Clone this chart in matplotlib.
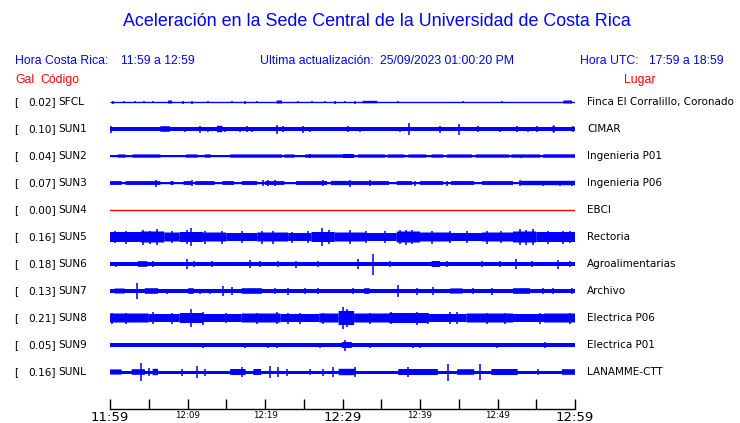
import matplotlib
matplotlib.use("Agg")
import matplotlib.pyplot as plt
import matplotlib.transforms as mtransforms

# station table (top to bottom)
codes = ["SFCL", "SUN1", "SUN2", "SUN3", "SUN4", "SUN5", "SUN6", "SUN7", "SUN8", "SUN9", "SUNL"]
gal = [0.02, 0.10, 0.04, 0.07, 0.00, 0.16, 0.18, 0.13, 0.21, 0.05, 0.16]
places = ["Finca El Corralillo, Coronado", "CIMAR", "Ingenieria P01", "Ingenieria P06",
          "EBCI", "Rectoria", "Agroalimentarias", "Archivo", "Electrica P06",
          "Electrica P01", "LANAMME-CTT"]

# time axis: minutes after 11:59
tick_minutes = list(range(0, 61, 5))
tick_labels = {0: "11:59", 10: "12:09", 20: "12:19", 30: "12:29",
               40: "12:39", 50: "12:49", 60: "12:59"}
big_labels = ["11:59", "12:29", "12:59"]

# trace envelopes, half-amplitude in screen pixels
# core: quiet band level; segments: (start_min, end_min, half_amp); spikes: (min, half_amp)
core = [0.5, 1.8, 0.6, 1.0, 0.5, 0.0, 1.7, 1.7, 0.0, 1.7, 1.5]

segments = {
    "SFCL": [(7.5, 8.0, 1.5), (21.5, 22.2, 1.5), (32.6, 34.5, 1.2), (58.5, 59.6, 1.5)],
    "SUN1": [(6.5, 7.7, 2.8), (13.8, 14.5, 3.2), (57.1, 57.4, 3.5)],
    "SUN2": [(1.0, 2.0, 1.6), (2.9, 6.5, 1.6), (9.8, 11.3, 1.6), (12.2, 13.0, 1.6),
             (15.5, 22.2, 1.6), (22.5, 23.8, 1.6), (25.2, 30.0, 1.6), (30.0, 31.5, 2.0),
             (32.0, 35.5, 1.6), (35.8, 38.0, 1.6), (38.5, 40.8, 1.6), (41.5, 43.0, 1.6),
             (43.5, 46.7, 1.6), (47.2, 51.5, 1.6), (51.8, 55.5, 1.6), (55.9, 60.0, 1.7)],
    "SUN3": [(0.0, 1.5, 1.9), (2.0, 6.5, 1.9), (7.8, 8.2, 1.9), (9.5, 10.5, 1.9),
             (11.0, 13.5, 1.9), (14.5, 16.0, 1.9), (17.0, 19.0, 1.9), (20.0, 22.5, 1.9),
             (24.0, 28.0, 1.9), (28.5, 31.0, 2.1), (31.0, 36.0, 1.9), (37.0, 39.0, 1.9),
             (40.0, 43.0, 1.9), (44.0, 47.0, 1.9), (48.0, 52.0, 1.9), (53.0, 60.0, 2.2)],
    "SUN4": [],
    "SUN5": [(0, 4, 5.0), (4, 7, 5.5), (7, 9, 4.5), (9, 12, 5.0), (12, 15, 4.5),
             (15, 19, 4.0), (19, 23, 4.5), (23, 26, 4.0), (26, 29, 5.0), (29, 33, 4.5),
             (33, 37, 4.0), (37, 40, 5.5), (40, 44, 4.5), (44, 48, 4.0), (48, 52, 4.5),
             (52, 55, 5.5), (55, 60, 5.0)],
    "SUN6": [(3.6, 4.8, 2.8), (41.5, 42.6, 3.0)],
    "SUN7": [(0.6, 1.9, 2.5), (4.5, 6.2, 2.8), (10.1, 10.8, 2.8), (17.0, 19.6, 2.8),
             (32.8, 33.5, 2.8), (43.9, 45.5, 2.6), (52.0, 54.2, 2.8)],
    "SUN8": [(0, 5, 4.5), (5, 9, 4.0), (9, 12, 5.0), (12, 17, 4.0), (17, 22, 4.5),
             (22, 27, 4.0), (27, 29.5, 4.5), (29.5, 31.5, 7.0), (31.5, 36, 4.5),
             (36, 41, 5.0), (41, 46, 4.0), (46, 52, 4.5), (52, 56, 4.0), (56, 60, 4.5)],
    "SUN9": [(29.9, 31.2, 3.0)],
    "SUNL": [(0.0, 1.5, 2.6), (2.8, 4.5, 2.8), (5.5, 6.2, 3.2), (15.5, 17.5, 3.0),
             (18.5, 19.5, 3.0), (29.5, 31.7, 3.2), (37.2, 42.3, 3.0), (44.8, 47.0, 2.8),
             (49.2, 52.6, 3.0), (58.3, 60.0, 2.8)],
}

spikes = {
    "SFCL": [(0.4, 1.5), (1.8, 1.3), (3.2, 1.3), (4.4, 1.2), (5.5, 1.2), (9.4, 1.5),
             (10.6, 1.5), (12.6, 1.2), (15.7, 1.2), (17.4, 1.5), (19.0, 1.3), (24.3, 1.2),
             (26.1, 1.2), (27.7, 1.3), (29.0, 1.5), (30.3, 1.3), (31.6, 1.5), (37.2, 1.3),
             (45.5, 1.2), (50.6, 1.2)],
    "SUN1": [(0.1, 3.5), (9.7, 2.5), (11.6, 3.5), (12.6, 2.5), (14.8, 2.5), (16.8, 2.5),
             (17.7, 3.0), (18.3, 2.5), (21.6, 4.5), (22.3, 3.0), (24.9, 3.5), (25.8, 2.5),
             (30.7, 3.0), (32.2, 2.5), (37.4, 2.5), (38.6, 6.0), (42.6, 3.5), (45.0, 5.5),
             (47.5, 3.0), (50.3, 2.5), (52.5, 3.0), (53.9, 2.5), (55.1, 3.0), (59.7, 3.0)],
    "SUN2": [(0.4, 1.3), (8.5, 1.3), (14.0, 1.3), (25.8, 2.0), (53.0, 1.5)],
    "SUN3": [(5.9, 3.5), (10.6, 3.0), (19.7, 3.0), (20.4, 3.0), (21.3, 3.0), (27.5, 3.0),
             (31.0, 3.5), (33.5, 3.0), (39.4, 2.5), (43.5, 2.5), (52.9, 3.0), (55.9, 2.5),
             (58.1, 2.5), (59.6, 2.5)],
    "SUN4": [],
    "SUN5": [(0.6, 6.0), (2.0, 6.5), (4.3, 7.5), (5.2, 6.5), (6.1, 8.0), (8.0, 6.0),
             (9.9, 7.0), (10.5, 9.0), (12.3, 6.5), (14.5, 6.5), (17.0, 6.0), (19.6, 6.5),
             (21.0, 6.5), (23.5, 5.5), (25.5, 6.0), (27.4, 9.0), (28.2, 7.0), (31.0, 7.0),
             (33.0, 6.0), (35.5, 6.0), (37.4, 7.0), (38.2, 7.5), (39.0, 7.0), (41.5, 6.5),
             (43.9, 6.0), (46.0, 6.0), (48.6, 6.5), (50.5, 6.0), (52.9, 8.0), (53.7, 7.5),
             (54.6, 8.0), (56.5, 6.5), (58.5, 6.5), (59.4, 6.0)],
    "SUN6": [(0.8, 2.5), (5.5, 3.0), (9.9, 5.0), (10.9, 3.0), (13.2, 3.0), (18.1, 4.0),
             (19.4, 3.0), (21.7, 3.0), (24.0, 3.5), (26.8, 3.0), (32.0, 5.0), (33.9, 10.5),
             (36.1, 3.0), (43.5, 3.0), (48.0, 3.0), (50.3, 3.0), (52.4, 5.0), (54.5, 3.0),
             (57.8, 4.5), (59.4, 3.0)],
    "SUN7": [(3.5, 8.0), (7.4, 2.5), (11.6, 2.5), (12.9, 2.5), (14.6, 5.0), (15.8, 4.0),
             (21.3, 3.0), (23.0, 3.5), (25.2, 3.0), (26.8, 3.0), (31.4, 3.0), (37.2, 6.0),
             (39.6, 3.5), (41.7, 4.0), (46.8, 3.0), (49.3, 3.5), (55.9, 3.0), (57.2, 3.0),
             (59.6, 3.0)],
    "SUN8": [(0.3, 5.5), (2.0, 5.5), (5.6, 6.0), (8.0, 5.5), (10.5, 9.0), (12.0, 6.5),
             (15.0, 5.0), (19.0, 5.5), (21.5, 6.0), (23.0, 5.5), (24.5, 5.5), (27.5, 5.5),
             (30.1, 11.0), (30.6, 9.0), (33.5, 5.5), (36.2, 6.0), (39.6, 6.5), (41.0, 5.5),
             (43.9, 6.0), (44.8, 6.0), (48.6, 5.5), (51.0, 5.5), (55.5, 5.5), (59.4, 5.5)],
    "SUN9": [(12.0, 2.5), (17.4, 2.5), (20.4, 2.5), (21.5, 2.5), (27.1, 2.5), (30.3, 5.5),
             (33.5, 2.5), (39.1, 2.5), (40.0, 2.5), (49.9, 2.5), (56.1, 3.0)],
    "SUNL": [(4.0, 8.7), (5.0, 4.0), (9.3, 3.5), (11.2, 6.0), (12.3, 3.5), (17.0, 5.0),
             (20.6, 6.0), (21.7, 5.0), (22.8, 3.5), (25.8, 3.0), (27.5, 3.5), (28.8, 5.0),
             (31.6, 5.0), (38.5, 5.0), (43.6, 8.5), (47.7, 8.0), (55.2, 3.0)],
}

W, H = 740, 423
fig = plt.figure(figsize=(W / 100, H / 100), dpi=100)

# trace area in pixels: x 110..575, y 85..409
ax = fig.add_axes([110 / W, 1 - 409 / H, 465 / W, (409 - 85) / H])
ax.set_xlim(0, 60)
ax.set_ylim(409, 85)

row0, row_step = 102, 27
blue = "#0000ff"
for i, code in enumerate(codes):
    y = row0 + i * row_step
    if code == "SUN4":
        ax.plot([0, 60], [y, y], color="red", lw=1.0)
        continue
    ax.plot([0, 60], [y, y], color=blue, lw=1.0, solid_capstyle="butt")
    if core[i] > 0.5:
        ax.fill_between([0, 60], y - core[i], y + core[i], color=blue, lw=0)
    for t0, t1, a in segments[code]:
        ax.bar(t0, 2 * a, width=t1 - t0, bottom=y - a, align="edge", color=blue,
               lw=0, snap=False)
    for t, a in spikes[code]:
        ax.plot([t, t], [y - a, y + a], color=blue, lw=1.1, solid_capstyle="butt")

# bottom time axis
for s in ["top", "left", "right"]:
    ax.spines[s].set_visible(False)
ax.spines["bottom"].set_linewidth(1.0)
ax.set_yticks([])
ax.set_xticks(tick_minutes)
ax.set_xticklabels([tick_labels.get(m, "") for m in tick_minutes])
ax.tick_params(axis="x", direction="in", length=7.2, width=1.0, pad=1.5)
for lab in ax.get_xticklabels():
    lab.set_family("DejaVu Sans")
    lab.set_fontsize(9.5 if lab.get_text() in big_labels else 6.3)
    lab.set_verticalalignment("top")

# texts
sans = "Liberation Sans"


def fx(px):
    return px / W


def fy(px):
    return 1 - px / H


def head(x, y, s, color=blue, ha="left"):
    fig.text(fx(x), fy(y), s, ha=ha, va="center", fontsize=8.8, color=color, family=sans)


fig.text(fx(377), fy(22), "Aceleración en la Sede Central de la Universidad de Costa Rica",
         ha="center", va="center", fontsize=12.9, color=blue, family=sans)
head(15, 61, "Hora Costa Rica:")
head(121, 61, "11:59 a 12:59")
head(260, 61, "Ultima actualización:")
head(380, 61, "25/09/2023 01:00:20 PM")
head(580, 61, "Hora UTC:")
head(724, 61, "17:59 a 18:59", ha="right")
head(15, 80, "Gal", color="red")
head(40, 80, "Código", color="red")
head(640, 80, "Lugar", color="red", ha="center")

trans = mtransforms.blended_transform_factory(fig.transFigure, ax.transData)
for i, code in enumerate(codes):
    y = row0 + i * row_step
    ax.text(fx(14), y, "[", transform=trans, ha="left", va="center", fontsize=7.6, clip_on=False)
    ax.text(fx(56), y, f"{gal[i]:.2f}]", transform=trans, ha="right", va="center",
            fontsize=7.6, clip_on=False)
    ax.text(fx(58), y, code, transform=trans, ha="left", va="center", fontsize=7.6, clip_on=False)
    ax.text(fx(587), y, places[i], transform=trans, ha="left", va="center",
            fontsize=7.45, clip_on=False)

fig.savefig("out.png", dpi=100)
